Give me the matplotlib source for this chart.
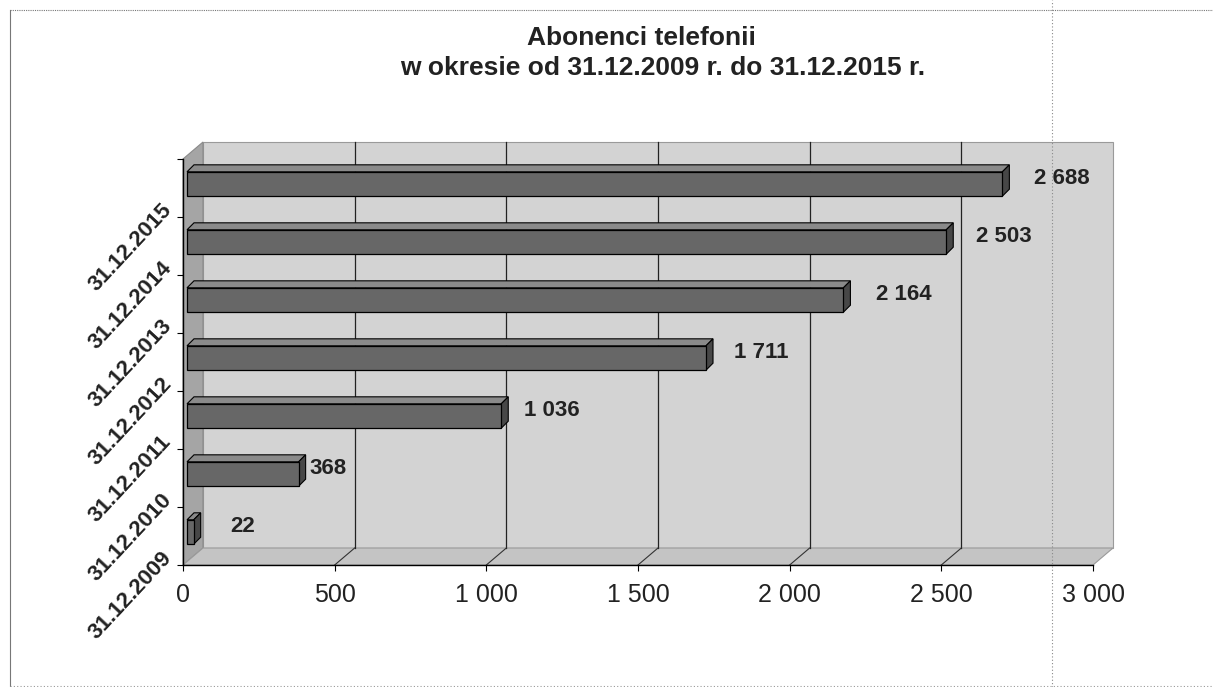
import matplotlib
matplotlib.use("Agg")
import matplotlib.pyplot as plt
from matplotlib.patches import Polygon, Rectangle
from matplotlib.lines import Line2D

# ---------------- data ----------------
categories = ["31.12.2009", "31.12.2010", "31.12.2011", "31.12.2012",
              "31.12.2013", "31.12.2014", "31.12.2015"]
values = [22, 368, 1036, 1711, 2164, 2503, 2688]
value_labels = ["22", "368", "1 036", "1 711", "2 164", "2 503", "2 688"]
x_ticks = [0, 500, 1000, 1500, 2000, 2500, 3000]
x_tick_labels = ["0", "500", "1 000", "1 500", "2 000", "2 500", "3 000"]
title_line1 = "Abonenci telefonii"
title_line2 = "w okresie od 31.12.2009 r. do 31.12.2015 r."

# ---------------- style ----------------
FONT = "Liberation Sans"
label_gap_px = [30, 4, 16, 21, 26, 23, 25]   # gap between bar end and its value label
WALL = "#d3d3d3"
SIDE_WALL = "#a5a5a5"
FLOOR = "#c4c4c4"
BAR_FRONT = "#676767"
BAR_TOP = "#8a8a8a"
BAR_SIDE = "#474747"

W, H, DPI = 1213, 687, 100
fig = plt.figure(figsize=(W / DPI, H / DPI), dpi=DPI)
fig.patch.set_facecolor("white")

L, R, B, T = 183, 1093, 565, 159
ax = fig.add_axes([L / W, (H - B) / H, (R - L) / W, (B - T) / H])
n = len(categories)
xmax = x_ticks[-1]
ax.set_xlim(x_ticks[0], xmax)
ax.set_ylim(0, n)
ax.patch.set_visible(False)

def dx(px):
    return px * (xmax - x_ticks[0]) / (R - L)

def dy(px):
    return px * n / (B - T)

DX, DY = dx(20), dy(17)

# back wall
ax.add_patch(Rectangle((DX, DY), xmax, n, facecolor=WALL, edgecolor="#9a9a9a",
                       lw=0.8, zorder=0, clip_on=False))
# left side wall
ax.add_patch(Polygon([(0, 0), (0, n), (DX, n + DY), (DX, DY)], closed=True,
                     facecolor=SIDE_WALL, edgecolor="#8a8a8a", lw=0.8,
                     zorder=0.5, clip_on=False))
# floor
ax.add_patch(Polygon([(0, 0), (xmax, 0), (xmax + DX, DY), (DX, DY)], closed=True,
                     facecolor=FLOOR, edgecolor="#9a9a9a", lw=0.8,
                     zorder=0.5, clip_on=False))
# gridlines on back wall + floor diagonals
for t in x_ticks[1:-1]:
    ax.plot([t + DX, t + DX], [DY, n + DY], color="#222222", lw=0.9,
            zorder=0.8, clip_on=False)
    ax.plot([t, t + DX], [0, DY], color="#333333", lw=0.8, zorder=0.8,
            clip_on=False)

# bars (pseudo 3D)
fx, fy = dx(4), dy(4)
bx, by = dx(11), dy(11)
hh = 0.21
for i, v in enumerate(values):
    yc = i + 0.5
    y0, y1 = yc - hh, yc + hh
    ax.add_patch(Polygon([(fx, y1 + fy), (v + fx, y1 + fy), (v + bx, y1 + by), (bx, y1 + by)],
                         closed=True, facecolor=BAR_TOP, edgecolor="black", lw=0.8,
                         zorder=3, clip_on=False))
    ax.add_patch(Rectangle((fx, y0 + fy), v, 2 * hh, facecolor=BAR_FRONT,
                           edgecolor="black", lw=0.9, zorder=3.2, clip_on=False))
    ax.add_patch(Polygon([(v + fx, y0 + fy), (v + fx, y1 + fy), (v + bx, y1 + by), (v + bx, y0 + by)],
                         closed=True, facecolor=BAR_SIDE, edgecolor="black", lw=0.8,
                         zorder=3.1, clip_on=False))
    ax.annotate(value_labels[i], xy=(v, yc), xytext=(11 + label_gap_px[i], 9),
                textcoords="offset pixels", ha="left", va="center",
                fontsize=16, fontweight="bold", family=FONT, color="#222222",
                zorder=5, annotation_clip=False)

# category labels (rotated)
for i, cat in enumerate(categories):
    ax.annotate(cat, xy=(0, i), xytext=(-15, 10), textcoords="offset pixels",
                rotation=47, rotation_mode="anchor", ha="right", va="center",
                fontsize=16, fontweight="bold", family=FONT, color="#222222",
                annotation_clip=False)

# axes, ticks
for s in ("top", "right"):
    ax.spines[s].set_visible(False)
for s in ("left", "bottom"):
    ax.spines[s].set_color("black")
    ax.spines[s].set_linewidth(1.0)
    ax.spines[s].set_zorder(4)
ax.set_yticks(range(n + 1))
ax.set_yticklabels([""] * (n + 1))
ax.set_xticks(x_ticks)
ax.set_xticklabels(x_tick_labels, fontsize=18, family=FONT, color="#222222")
ax.tick_params(axis="x", direction="out", length=4, width=0.8, pad=9)
ax.tick_params(axis="y", direction="out", length=4, width=0.8)

# title
fig.text(641 / W, 1 - 38 / H, title_line1, ha="center", va="center",
         fontsize=19, fontweight="bold", family=FONT, color="#222222")
fig.text(663 / W, 1 - 68 / H, title_line2, ha="center", va="center",
         fontsize=19, fontweight="bold", family=FONT, color="#222222")

# page frame lines seen in the scan
fig.add_artist(Line2D([10 / W, 10 / W], [0, 1 - 10 / H], transform=fig.transFigure,
                      color="#777777", lw=0.8))
fig.add_artist(Line2D([10 / W, 1], [1 - 10 / H, 1 - 10 / H], transform=fig.transFigure,
                      color="#777777", lw=0.8, ls=(0, (1, 1))))
fig.add_artist(Line2D([1052 / W, 1052 / W], [0, 1], transform=fig.transFigure,
                      color="#888888", lw=0.8, ls=(0, (1, 2))))
fig.add_artist(Line2D([10 / W, 1], [1.5 / H, 1.5 / H], transform=fig.transFigure,
                      color="#999999", lw=0.8, ls=(0, (1, 2))))

fig.savefig("out.png", dpi=DPI)
